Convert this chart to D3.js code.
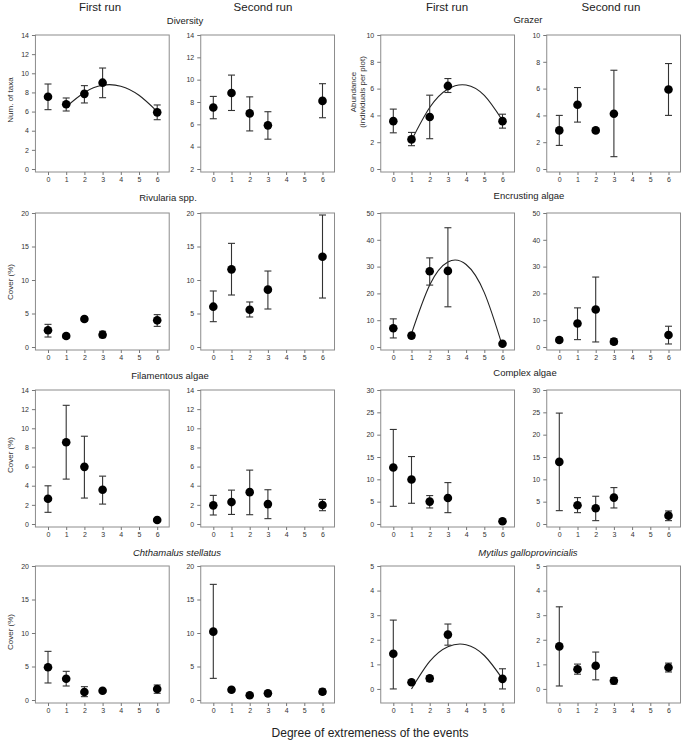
<!DOCTYPE html>
<html>
<head>
<meta charset="utf-8">
<script src="https://cdn.jsdelivr.net/npm/d3@7"></script>
<style>
body { margin: 0; background: #fff; }
svg { display: block; font-family: "Liberation Sans", Arial, sans-serif; }
</style>
</head>
<body>
<script>
///////// data /////////////////////
var xValues = [0, 1, 2, 3, 6]
var xTicks = [0, 1, 2, 3, 4, 5, 6]
var fitX = [1, 2, 3, 4, 5, 6]

// Diversity
var divFirstMean = [7.55, 6.76, 7.85, 9.02, 5.92]
var divFirstHi = [8.88, 7.42, 8.71, 10.55, 6.69]
var divFirstLo = [6.2, 6.06, 6.9, 7.45, 5.15]
var divFirstFit = [6.5, 8.0, 8.75, 8.65, 7.7, 6.0]
var divSecondMean = [7.51, 8.81, 6.98, 5.91, 8.1]
var divSecondHi = [8.5, 10.41, 8.46, 7.13, 9.64]
var divSecondLo = [6.5, 7.24, 5.41, 4.67, 6.59]

// Grazer
var grzFirstMean = [3.57, 2.21, 3.88, 6.2, 3.57]
var grzFirstHi = [4.47, 2.73, 5.51, 6.75, 4.09]
var grzFirstLo = [2.7, 1.74, 2.26, 5.71, 3.05]
var grzFirstFit = [2.13, 4.59, 5.97, 6.27, 5.49, 3.62]
var grzSecondMean = [2.88, 4.79, 2.88, 4.12, 5.93]
var grzSecondHi = [4.0, 6.08, 3.0, 7.37, 7.87]
var grzSecondLo = [1.76, 3.5, 2.73, 0.92, 4.0]

// Rivularia spp.
var rivFirstMean = [2.49, 1.64, 4.18, 1.84, 3.98]
var rivFirstHi = [3.38, 1.94, 4.48, 2.34, 4.83]
var rivFirstLo = [1.49, 1.34, 3.88, 1.39, 3.08]
var rivSecondMean = [6.02, 11.59, 5.57, 8.56, 13.48]
var rivSecondHi = [8.36, 15.47, 6.72, 11.34, 19.7]
var rivSecondLo = [3.78, 7.76, 4.48, 5.67, 7.31]

// Encrusting algae
var encFirstMean = [7.0, 4.25, 28.25, 28.4, 1.2]
var encFirstHi = [10.5, 5.0, 33.25, 44.5, 1.6]
var encFirstLo = [3.38, 3.38, 23.1, 15.0, 0.8]
var encFirstFit = [5.0, 23.15, 31.74, 30.78, 20.29, 0.25]
var encSecondMean = [2.63, 8.75, 14.0, 2.0, 4.5]
var encSecondHi = [3.5, 14.6, 26.1, 3.1, 7.75]
var encSecondLo = [1.88, 2.75, 1.88, 1.0, 1.13]

// Filamentous algae
var filFirstMean = [2.64, 8.54, 5.97, 3.58, 0.42]
var filFirstHi = [3.99, 12.4, 9.17, 5.0, 0.56]
var filFirstLo = [1.22, 4.69, 2.71, 2.08, 0.28]
var filSecondMean = [1.95, 2.29, 3.33, 2.08, 1.98]
var filSecondHi = [2.99, 3.54, 5.63, 3.58, 2.57]
var filSecondLo = [0.94, 1.0, 0.97, 0.56, 1.39]

// Complex algae
var cpxFirstMean = [12.64, 9.95, 5.01, 5.83, 0.6]
var cpxFirstHi = [21.17, 15.1, 6.36, 9.27, 0.9]
var cpxFirstLo = [3.96, 4.64, 3.59, 2.54, 0.3]
var cpxSecondMean = [13.9, 4.19, 3.52, 5.91, 1.87]
var cpxSecondHi = [24.83, 5.91, 6.21, 8.15, 2.92]
var cpxSecondLo = [2.99, 2.54, 0.75, 3.59, 0.75]

// Chthamalus stellatus
var chtFirstMean = [4.88, 3.18, 1.19, 1.39, 1.64]
var chtFirstHi = [7.26, 4.28, 1.99, 1.59, 2.24]
var chtFirstLo = [2.54, 2.09, 0.5, 1.19, 1.0]
var chtSecondMean = [10.2, 1.54, 0.7, 0.99, 1.24]
var chtSecondHi = [17.26, 1.84, 0.95, 1.14, 1.64]
var chtSecondLo = [3.23, 1.24, 0.5, 0.84, 0.85]

// Mytilus galloprovincialis
var mytFirstMean = [1.43, 0.27, 0.43, 2.21, 0.41]
var mytFirstHi = [2.8, 0.33, 0.52, 2.64, 0.82]
var mytFirstLo = [0.0, 0.22, 0.3, 1.78, 0.0]
var mytFirstFit = [0.0, 1.12, 1.72, 1.8, 1.36, 0.41]
var mytSecondMean = [1.73, 0.8, 0.94, 0.33, 0.87]
var mytSecondHi = [3.34, 1.01, 1.5, 0.46, 1.05]
var mytSecondLo = [0.12, 0.6, 0.37, 0.2, 0.69]

// y tick labels
var ticks0to14 = [0, 2, 4, 6, 8, 10, 12, 14]
var ticks2to14 = [2, 4, 6, 8, 10, 12, 14]
var ticks0to10 = [0, 2, 4, 6, 8, 10]
var ticks0to20 = [0, 5, 10, 15, 20]
var ticks0to50 = [0, 10, 20, 30, 40, 50]
var ticks0to30 = [0, 5, 10, 15, 20, 25, 30]
var ticks0to5 = [0, 1, 2, 3, 4, 5]

///////// layout /////////////////////
var width = 685
var height = 742
var rowTop = [35, 213, 390, 566]
var colZero = [48, 213.3, 393.3, 559.3]
var unit = 18.2
var plotH = 134

var svg = d3.select('body').append('svg').attr('width', width).attr('height', height)

var panels = [
    {row: 0, col: 0, m: divFirstMean, hi: divFirstHi, lo: divFirstLo, dom: [0, 14], ticks: ticks0to14, fit: divFirstFit},
    {row: 0, col: 1, m: divSecondMean, hi: divSecondHi, lo: divSecondLo, dom: [2, 14], ticks: ticks2to14},
    {row: 0, col: 2, m: grzFirstMean, hi: grzFirstHi, lo: grzFirstLo, dom: [0, 10], ticks: ticks0to10, fit: grzFirstFit},
    {row: 0, col: 3, m: grzSecondMean, hi: grzSecondHi, lo: grzSecondLo, dom: [0, 10], ticks: ticks0to10},
    {row: 1, col: 0, m: rivFirstMean, hi: rivFirstHi, lo: rivFirstLo, dom: [0, 20], ticks: ticks0to20},
    {row: 1, col: 1, m: rivSecondMean, hi: rivSecondHi, lo: rivSecondLo, dom: [0, 20], ticks: ticks0to20},
    {row: 1, col: 2, m: encFirstMean, hi: encFirstHi, lo: encFirstLo, dom: [0, 50], ticks: ticks0to50, fit: encFirstFit},
    {row: 1, col: 3, m: encSecondMean, hi: encSecondHi, lo: encSecondLo, dom: [0, 50], ticks: ticks0to50},
    {row: 2, col: 0, m: filFirstMean, hi: filFirstHi, lo: filFirstLo, dom: [0, 14], ticks: ticks0to14},
    {row: 2, col: 1, m: filSecondMean, hi: filSecondHi, lo: filSecondLo, dom: [0, 14], ticks: ticks0to14},
    {row: 2, col: 2, m: cpxFirstMean, hi: cpxFirstHi, lo: cpxFirstLo, dom: [0, 30], ticks: ticks0to30},
    {row: 2, col: 3, m: cpxSecondMean, hi: cpxSecondHi, lo: cpxSecondLo, dom: [0, 30], ticks: ticks0to30},
    {row: 3, col: 0, m: chtFirstMean, hi: chtFirstHi, lo: chtFirstLo, dom: [0, 20], ticks: ticks0to20},
    {row: 3, col: 1, m: chtSecondMean, hi: chtSecondHi, lo: chtSecondLo, dom: [0, 20], ticks: ticks0to20},
    {row: 3, col: 2, m: mytFirstMean, hi: mytFirstHi, lo: mytFirstLo, dom: [-0.45, 5], ticks: ticks0to5, fit: mytFirstFit},
    {row: 3, col: 3, m: mytSecondMean, hi: mytSecondHi, lo: mytSecondLo, dom: [-0.45, 5], ticks: ticks0to5}
]

panels.forEach(function(p) {
    var top = rowTop[p.row]
    var z = colZero[p.col]
    var x = d3.scaleLinear().domain([-0.69, 6.66]).range([z - 0.69 * unit, z + 6.66 * unit])
    var y = d3.scaleLinear().domain(p.dom).range([top + plotH, top])
    var bottom = top + plotH + 3
    var g = svg.append('g')

    // frame
    g.append('rect').attr('x', x(-0.69)).attr('y', top)
        .attr('width', x(6.66) - x(-0.69)).attr('height', bottom - top)
        .attr('fill', 'none').attr('stroke', '#8c8c8c').attr('stroke-width', 1)

    var ya = g.append('g').attr('transform', 'translate(' + x(-0.69) + ',0)')
        .call(d3.axisLeft(y).tickValues(p.ticks).tickFormat(d3.format('d')).tickSize(3.5).tickPadding(3).tickSizeOuter(0))
    var xa = g.append('g').attr('transform', 'translate(0,' + bottom + ')')
        .call(d3.axisBottom(x).tickValues(xTicks).tickFormat(d3.format('d')).tickSize(3).tickPadding(2).tickSizeOuter(0))
    ;[ya, xa].forEach(function(a) {
        a.select('.domain').remove()
        a.selectAll('line').attr('stroke', '#777')
        a.selectAll('text').attr('fill', '#333').style('font-size', '7px').style('font-family', '"Liberation Sans", Arial, sans-serif')
    })

    // fitted curve
    if (p.fit) {
        var line = d3.line().x(function(d, i) { return x(fitX[i]) }).y(function(d) { return y(d) }).curve(d3.curveNatural)
        g.append('path').datum(p.fit).attr('d', line)
            .attr('fill', 'none').attr('stroke', '#222').attr('stroke-width', 1.1)
    }

    // error bars
    var bars = g.selectAll('.eb').data(xValues).enter().append('g')
    bars.append('line')
        .attr('x1', function(d) { return x(d) }).attr('x2', function(d) { return x(d) })
        .attr('y1', function(d, i) { return y(p.hi[i]) }).attr('y2', function(d, i) { return y(p.lo[i]) })
        .attr('stroke', '#333').attr('stroke-width', 1.1)
    bars.append('line')
        .attr('x1', function(d) { return x(d) - 3.5 }).attr('x2', function(d) { return x(d) + 3.5 })
        .attr('y1', function(d, i) { return y(p.hi[i]) }).attr('y2', function(d, i) { return y(p.hi[i]) })
        .attr('stroke', '#333').attr('stroke-width', 1.1)
    bars.append('line')
        .attr('x1', function(d) { return x(d) - 3.5 }).attr('x2', function(d) { return x(d) + 3.5 })
        .attr('y1', function(d, i) { return y(p.lo[i]) }).attr('y2', function(d, i) { return y(p.lo[i]) })
        .attr('stroke', '#333').attr('stroke-width', 1.1)

    // points
    g.selectAll('circle').data(xValues).enter().append('circle')
        .attr('cx', function(d) { return x(d) })
        .attr('cy', function(d, i) { return y(p.m[i]) })
        .attr('r', 4.3).attr('fill', '#000')
})

///////// text /////////////////////
function label(txt, x, y, size, opts) {
    opts = opts || {}
    var t = svg.append('text').attr('x', x).attr('y', y).attr('text-anchor', 'middle')
        .attr('fill', opts.fill || '#222').style('font-size', size + 'px').text(txt)
    if (opts.italic) t.style('font-style', 'italic')
    if (opts.rotate) t.attr('transform', 'rotate(-90,' + x + ',' + y + ')')
    return t
}

label('First run', 100, 11, 11.5)
label('Second run', 263, 11, 11.5)
label('First run', 447, 11, 11.5)
label('Second run', 611, 11, 11.5)

label('Diversity', 185, 24, 9.5)
label('Grazer', 528, 23, 9.5)
label('Rivularia spp.', 168, 201, 9.5)
label('Encrusting algae', 529, 199, 9.5)
label('Filamentous algae', 170, 379, 9.5)
label('Complex algae', 525, 376, 9.5)
label('Chthamalus stellatus', 177, 556, 9.5, {italic: true})
label('Mytilus galloprovincialis', 528, 556, 9.5, {italic: true})

label('Num. of taxa', 13, 100, 8, {rotate: true, fill: '#333'})
label('Abundance', 356, 92, 8, {rotate: true, fill: '#333'})
label('(individuals per plot)', 365, 92, 8, {rotate: true, fill: '#333'})
label('Cover (%)', 13, 282, 8, {rotate: true, fill: '#333'})
label('Cover (%)', 13, 455, 8, {rotate: true, fill: '#333'})
label('Cover (%)', 13, 632, 8, {rotate: true, fill: '#333'})

label('Degree of extremeness of the events', 370, 737, 12)
</script>
</body>
</html>
